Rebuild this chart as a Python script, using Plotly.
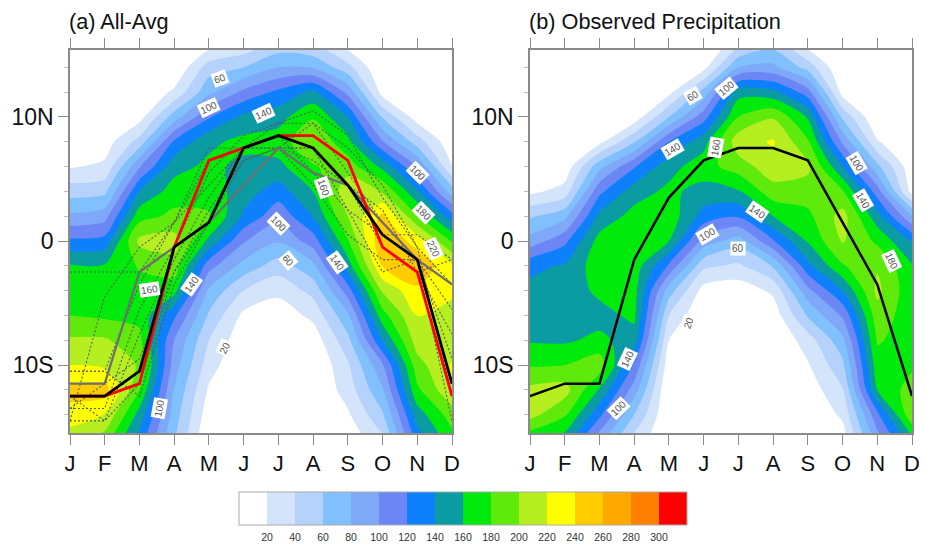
import plotly.graph_objects as go

months = list(range(12))
month_labels = ["J", "F", "M", "A", "M", "J", "J", "A", "S", "O", "N", "D"]
lats = [16, 14, 12, 10, 8, 6, 4, 2, 0, -2, -4, -6, -8, -10, -12, -14, -16]

# Panel (a): one column per month, north to south
a_jan = [0, 0, 0, 0, 5, 18, 51, 84, 124, 162, 170, 180, 203, 220, 245, 235, 205]
a_feb = [0, 0, 0, 0, 10, 24, 55, 92, 128, 162, 168, 176, 203, 215, 250, 219, 190]
a_mar = [0, 0, 0, 12, 48, 98, 140, 172, 205, 182, 172, 175, 185, 198, 180, 152, 132]
a_apr = [0, 0, 24, 70, 123, 152, 170, 185, 208, 192, 167, 124, 100, 90, 79, 70, 62]
a_may = [8, 50, 75, 118, 155, 165, 172, 182, 155, 108, 76, 57, 40, 29, 17, 8, 0]
a_jun = [22, 60, 105, 145, 166, 155, 149, 137, 102, 73, 40, 15, 5, 0, 0, 0, 0]
a_jul = [45, 80, 125, 152, 170, 155, 130, 106, 82, 50, 25, 8, 0, 0, 0, 0, 0]
a_aug = [38, 78, 145, 178, 197, 178, 160, 141, 110, 75, 47, 25, 8, 0, 0, 0, 0]
a_sep = [8, 47, 95, 140, 167, 190, 215, 200, 178, 150, 110, 76, 54, 37, 29, 17, 5]
a_oct = [0, 0, 12, 58, 102, 155, 198, 245, 258, 241, 203, 172, 140, 98, 78, 57, 36]
a_nov = [0, 0, 0, 10, 50, 100, 143, 182, 232, 255, 236, 221, 210, 192, 176, 150, 128]
a_dec = [0, 0, 0, 0, 5, 20, 70, 128, 178, 224, 228, 205, 210, 222, 217, 190, 172]

# Panel (b)
b_jan = [0, 0, 0, 0, 0, 2, 15, 57, 88, 135, 145, 152, 158, 178, 205, 207, 165]
b_feb = [0, 0, 0, 0, 0, 6, 28, 74, 115, 142, 147, 152, 157, 180, 208, 183, 150]
b_mar = [0, 0, 0, 0, 14, 73, 115, 145, 168, 172, 165, 152, 165, 192, 158, 125, 88]
b_apr = [0, 0, 0, 8, 58, 118, 150, 168, 175, 172, 168, 165, 150, 118, 90, 60, 33]
b_may = [0, 0, 14, 60, 120, 152, 165, 172, 160, 117, 70, 40, 20, 8, 0, 0, 0]
b_jun = [0, 13, 68, 112, 152, 172, 152, 132, 92, 45, 12, 0, 0, 0, 0, 0, 0]
b_jul = [30, 80, 152, 180, 212, 190, 158, 122, 70, 36, 8, 0, 0, 0, 0, 0, 0]
b_aug = [50, 85, 146, 198, 222, 212, 192, 160, 118, 62, 24, 8, 0, 0, 0, 0, 0]
b_sep = [8, 52, 110, 158, 183, 205, 190, 175, 162, 134, 94, 62, 30, 18, 8, 0, 0]
b_oct = [0, 0, 12, 56, 97, 140, 182, 208, 202, 178, 140, 103, 74, 55, 38, 24, 10]
b_nov = [0, 0, 0, 0, 22, 66, 110, 148, 176, 198, 205, 192, 182, 172, 160, 115, 90]
b_dec = [0, 0, 0, 0, 0, 5, 12, 82, 138, 162, 166, 168, 172, 176, 190, 195, 155]

# Rain-band latitude lines
a_black = [-12.5, -12.5, -10.5, -0.5, 1.5, 7.5, 8.5, 7.5, 4.5, 0.5, -1.5, -11.5]
a_red = [-12.5, -12.5, -11.5, -0.5, 6.5, 7.5, 8.5, 8.5, 6.5, -0.5, -2.5, -12.5]
a_gray = [-11.5, -11.5, -2.5, -0.5, 1.5, 4.5, 7.5, 5.5, 4.5, 1.5, -1.5, -3.5]
b_black = [-12.5, -11.5, -11.5, -1.5, 3.5, 6.5, 7.5, 7.5, 6.5, 1.5, -3.5, -12.5]
model_1 = [-10.5, -10.5, -3.5, 1.5, 7.5, 7.5, 9.5, 9.5, 5.5, 1.5, -1.5, -14.5]
model_2 = [-13.5, -13.5, -5.5, -0.5, 5.5, 8.5, 9.5, 10.5, 8.5, 3.5, -0.5, -12.5]
model_3 = [-14.5, -14.5, -11.5, -2.5, 2.5, 6.5, 7.5, 7.5, 4.5, -0.5, -2.5, -7.5]
model_4 = [-2.5, -2.5, -2.5, 1.5, 4.5, 7.5, 7.5, 9.5, 7.5, 4.5, -0.5, -3.5]
model_5 = [-14.5, -4.5, -0.5, 1.5, 6.5, 7.5, 7.5, 7.5, 2.5, -2.5, -1.5, -5.5]
model_6 = [-10.5, -10.5, -12.5, -3.5, 1.5, 6.5, 7.5, 6.5, 4.5, 2.5, -2.5, -1.5]
model_7 = [-13.5, -11.5, -9.5, -2.5, 1.5, 4.5, 7.5, 4.5, 0.5, -1.5, -1.5, -9.5]
model_8 = [-12.5, -14.5, -7.5, -1.5, 3.5, 7.5, 8.5, 5.5, 2.5, 0.5, 0.5, -1.5]

band_colors = ["#ffffff", "#d3e4fb", "#b4d2fb", "#80c0fc", "#7fa9f8", "#6c86f6", "#0f80fb", "#0a9ca2",
               "#00ea0c", "#5fea0c", "#b6ef20", "#ffff00", "#ffcc00", "#ffa800", "#ff8000", "#ff0000"]
band_ticks = list(range(20, 320, 20))

# Contour labels: text, month position, latitude, rotation
a_labels = [("60", 4.32, 13.1, -20), ("100", 4.0, 10.8, -25), ("140", 5.56, 10.3, -25), ("100", 10, 5.5, 45),
            ("180", 10.17, 2.3, 45), ("160", 7.3, 4.3, 70), ("100", 6, 1.4, 45), ("220", 10.46, -0.6, 65),
            ("60", 6.28, -1.6, 50), ("140", 7.7, -1.7, 55), ("140", 3.5, -3.5, -55), ("160", 2.3, -3.9, -8),
            ("20", 4.47, -8.6, -65), ("100", 2.57, -13.5, -80)]
b_labels = [("60", 4.7, 11.7, -30), ("100", 5.65, 12.3, -40), ("140", 4.09, 7.4, -30), ("160", 5.36, 7.5, -80),
            ("100", 9.39, 6.3, 60), ("140", 9.6, 3.3, 60), ("140", 6.54, 2.4, 35), ("100", 5.1, 0.5, -30),
            ("60", 6, -0.6, 0), ("180", 10.4, -1.6, 65), ("20", 4.58, -6.6, -70), ("140", 2.82, -9.5, -65),
            ("100", 2.54, -13.5, -45)]

a_columns = [a_jan, a_feb, a_mar, a_apr, a_may, a_jun, a_jul, a_aug, a_sep, a_oct, a_nov, a_dec]
b_columns = [b_jan, b_feb, b_mar, b_apr, b_may, b_jun, b_jul, b_aug, b_sep, b_oct, b_nov, b_dec]
a_z = [list(r) for r in zip(*a_columns)]
b_z = [list(r) for r in zip(*b_columns)]

n = len(band_colors)
scale = []
for i, c in enumerate(band_colors):
    scale.append([i / n, c])
    scale.append([(i + 1) / n, c])

# The page body has an 8px margin, so the figure sits at (8, 8) in the window.
OFF = 8
W, H = 919, 542
AX = "#8a8a8a"
FONT = "Liberation Sans, Arial, sans-serif"


def fx(px):
    return (px - OFF) / W


def fy(py):
    return 1 - (py - OFF) / H


fig = go.Figure()


def contour(z, xa, ya, show):
    return go.Contour(
        x=months, y=lats, z=z, xaxis=xa, yaxis=ya, colorscale=scale, zmin=0, zmax=320,
        autocontour=False, contours=dict(start=20, end=300, size=20, coloring="fill", showlines=False),
        line=dict(width=0, smoothing=0.8), hoverinfo="skip", showscale=show,
        colorbar=dict(orientation="h", xref="container", yref="container", x=fx(239), xanchor="left",
                      y=fy(492), yanchor="top", lenmode="pixels", len=448, thickness=33,
                      thicknessmode="pixels", tickmode="array", tickvals=band_ticks, ticks="outside", ticklen=3,
                      tickcolor="rgba(0,0,0,0)", tickfont=dict(size=10.5, family=FONT, color="#333"),
                      outlinecolor="#aaa", outlinewidth=1, xpad=0, ypad=0),
    )


fig.add_trace(contour(a_z, "x", "y", True))
fig.add_trace(contour(b_z, "x2", "y2", False))

for m in [model_1, model_2, model_3, model_4, model_5, model_6, model_7, model_8]:
    fig.add_trace(go.Scatter(x=months, y=m, xaxis="x", yaxis="y", mode="lines", hoverinfo="skip",
                             line=dict(color="#5a5a5a", width=1.1, dash="2px,2px")))
fig.add_trace(go.Scatter(x=months, y=a_gray, xaxis="x", yaxis="y", mode="lines", line=dict(color="#6e6e6e", width=2.2)))
fig.add_trace(go.Scatter(x=months, y=a_red, xaxis="x", yaxis="y", mode="lines", line=dict(color="#ff0000", width=2.8)))
fig.add_trace(go.Scatter(x=months, y=a_black, xaxis="x", yaxis="y", mode="lines", line=dict(color="#000000", width=2.8)))
fig.add_trace(go.Scatter(x=months, y=b_black, xaxis="x2", yaxis="y2", mode="lines", line=dict(color="#000000", width=2.5)))


def xaxis(left, right, anchor):
    return dict(domain=[fx(left), fx(right)], range=[0, 11], anchor=anchor, tickmode="array", tickvals=months,
                ticktext=month_labels, ticks="outside", ticklen=10, tickcolor=AX, tickwidth=1, linecolor=AX,
                linewidth=1.5, mirror="ticks", showgrid=False, zeroline=False,
                tickfont=dict(size=22, family=FONT, color="#111"))


def yaxis(anchor):
    return dict(domain=[fy(433), fy(50)], range=[-15.48, 15.4], anchor=anchor, tickmode="array",
                tickvals=[10, 0, -10], ticktext=["10N", "0", "10S"], ticks="outside", ticklen=10, tickcolor=AX,
                tickwidth=1, linecolor=AX, linewidth=1.5, mirror=True, showgrid=False, zeroline=False,
                tickfont=dict(size=23, family=FONT, color="#111"),
                minor=dict(tickmode="linear", tick0=0, dtick=2, ticks="outside", ticklen=4, tickcolor="#bbbbbb"))


annotations = [
    dict(text="(a) All-Avg", xref="paper", yref="paper", x=fx(68), y=1, xanchor="left", yanchor="top",
         borderpad=0, showarrow=False, font=dict(size=21.7, family=FONT, color="#111")),
    dict(text="(b) Observed Precipitation", xref="paper", yref="paper", x=fx(528), y=1, xanchor="left",
         yanchor="top", borderpad=0, showarrow=False, font=dict(size=21.7, family=FONT, color="#111")),
]
for labels, xr, yr in [(a_labels, "x", "y"), (b_labels, "x2", "y2")]:
    for text, mx, lat, ang in labels:
        annotations.append(dict(text=text, x=mx, y=lat, xref=xr, yref=yr, showarrow=False, textangle=ang,
                                font=dict(size=10, family=FONT, color="#555"), bgcolor="#ffffff", borderpad=1))

fig.update_layout(width=W, height=H, margin=dict(l=0, r=0, t=0, b=0, autoexpand=False), paper_bgcolor="white",
                  plot_bgcolor="white", showlegend=False, xaxis=xaxis(70, 452, "y"), yaxis=yaxis("x"),
                  xaxis2=xaxis(530, 912, "y2"), yaxis2=yaxis("x2"), annotations=annotations)
fig.write_html("out.html")
